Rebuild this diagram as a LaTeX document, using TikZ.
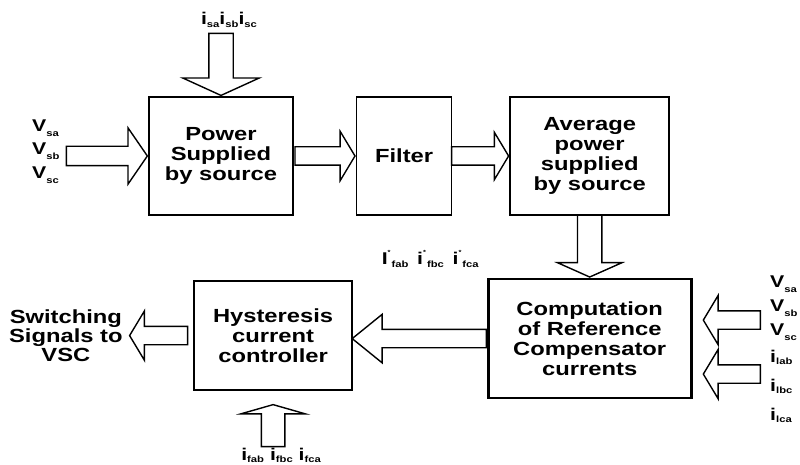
\documentclass[tikz,border=0pt]{standalone}
\usepackage{fontspec}
\setmainfont{Liberation Sans}[FakeStretch=1.25]
\usepackage{tikz}
\usetikzlibrary{shapes.arrows, positioning}

\newcommand{\sgnl}[3][3pt]{{\fontsize{17}{17}\selectfont #2}\raisebox{-#1}{\fontsize{9}{9}\selectfont #3}}
\newcommand{\sgnlref}[2]{{\fontsize{17}{17}\selectfont #1}\raisebox{10pt}{\fontsize{6}{6}\selectfont *}\kern1pt\raisebox{-3pt}{\fontsize{9}{9}\selectfont #2}}

\begin{document}
\begin{tikzpicture}[x=1pt, y=1pt,
    block/.style={
      rectangle, draw, line width=1.6pt,
      align=center, font=\bfseries\fontsize{19}{20}\selectfont
    },
    fat/.style={
      single arrow, draw, line width=1.4pt, inner sep=0pt, inner ysep=8.5pt,
      single arrow head extend=15.5pt, single arrow tip angle=118,
      minimum height=#1
    },
    fatv/.style={fat=#1, inner ysep=0pt, inner xsep=11.5pt},
    txt/.style={font=\bfseries\fontsize{19}{19}\selectfont, align=center, inner sep=1pt},
    sig/.style={font=\bfseries\fontsize{17}{23.5}\selectfont, align=left, inner sep=1pt},
  ]
  \useasboundingbox (0,0) rectangle (800,465);

  % top row
  \node[block, minimum width=144pt, minimum height=118pt] (power) at (221,309) {Power\\Supplied\\by source};
  \node[block, minimum width=95pt, minimum height=118pt, right=62pt of power] (filter) {Filter};
  \node[block, minimum width=159pt, minimum height=118pt, right=57pt of filter] (avg) {Average\\power\\supplied\\by source};

  % bottom row
  \node[block, line width=2.6pt, minimum width=203pt, minimum height=119pt, below=62pt of avg] (comp) {Computation\\of Reference\\Compensator\\currents};
  \node[block, minimum width=158pt, minimum height=109pt, left=134pt of comp, yshift=3pt] (hyst) {Hysteresis\\current\\controller};

  % block arrows
  \node[fatv=62pt, single arrow head extend=26pt, single arrow tip angle=131,
        shape border rotate=270, anchor=tip] (iin) at (power.north) {};
  \node[fat=81pt, inner ysep=9pt, single arrow head extend=18.5pt, single arrow tip angle=111,
        anchor=tip] (vin) at (power.west) {};
  \node[fat=60pt, anchor=tip] (pf) at (filter.west) {};
  \node[fat=57pt, single arrow head extend=14.5pt, anchor=tip] (fa) at (avg.west) {};
  \node[fatv=62pt, single arrow head extend=20pt, single arrow tip angle=132,
        shape border rotate=270, anchor=tip] (ac) at (comp.north) {};
  \node[fat=134pt, single arrow head extend=15pt, single arrow tip angle=78,
        shape border rotate=180, anchor=tail] (ch) at (comp.west) {};
  \node[fat=58pt, shape border rotate=180, anchor=tail] (hs) at ([xshift=-5pt]hyst.west) {};
  \node[fatv=42pt, inner xsep=11pt, single arrow head extend=20.5pt, single arrow tip angle=148,
        shape border rotate=90, anchor=tip] (fin) at ([yshift=-13pt]hyst.south) {};
  \node[fat=57pt, shape border rotate=180, anchor=tip] (vr) at ([xshift=10pt, yshift=18.5pt]comp.east) {};
  \node[fat=57pt, shape border rotate=180, anchor=tip] (lr) at ([xshift=10pt, yshift=-35.5pt]comp.east) {};

  % signal labels
  \node[sig, anchor=base] (isrc) at ([xshift=8pt, yshift=8pt]iin.tail) {\sgnl{i}{sa}\sgnl{i}{sb}\sgnl{i}{sc}};
  \node[sig, left=5pt of vin.tail, yshift=4.5pt] (vsrc) {\sgnl[5pt]{V}{sa}\\\sgnl[5pt]{V}{sb}\\\sgnl[5pt]{V}{sc}};
  \node[sig, anchor=base east] (iref) at ([xshift=-7pt, yshift=13pt]comp.north west) {\sgnlref{I}{fab}\, \sgnlref{i}{fbc}\, \sgnlref{i}{fca}};
  \node[sig, anchor=base] (ifil) at ([xshift=8pt, yshift=-13.5pt]fin.tail) {\sgnl[1.5pt]{i}{fab} \sgnl[1.5pt]{i}{fbc} \sgnl[1.5pt]{i}{fca}};
  \node[sig, font=\bfseries\fontsize{17}{24}\selectfont, anchor=west] (vsr) at ([xshift=8pt, yshift=12pt]vr.tail) {\sgnl[5pt]{V}{sa}\\\sgnl[5pt]{V}{sb}\\\sgnl[5pt]{V}{sc}};
  \node[sig, font=\bfseries\fontsize{17}{29}\selectfont, anchor=west] (iload) at ([xshift=8pt, yshift=-12pt]lr.tail) {\sgnl[2pt]{i}{lab}\\\sgnl[2pt]{i}{lbc}\\\sgnl[2pt]{i}{lca}};
  \node[txt, left=5pt of hs.tip] (sw) {Switching\\Signals to\\VSC};
\end{tikzpicture}
\end{document}
